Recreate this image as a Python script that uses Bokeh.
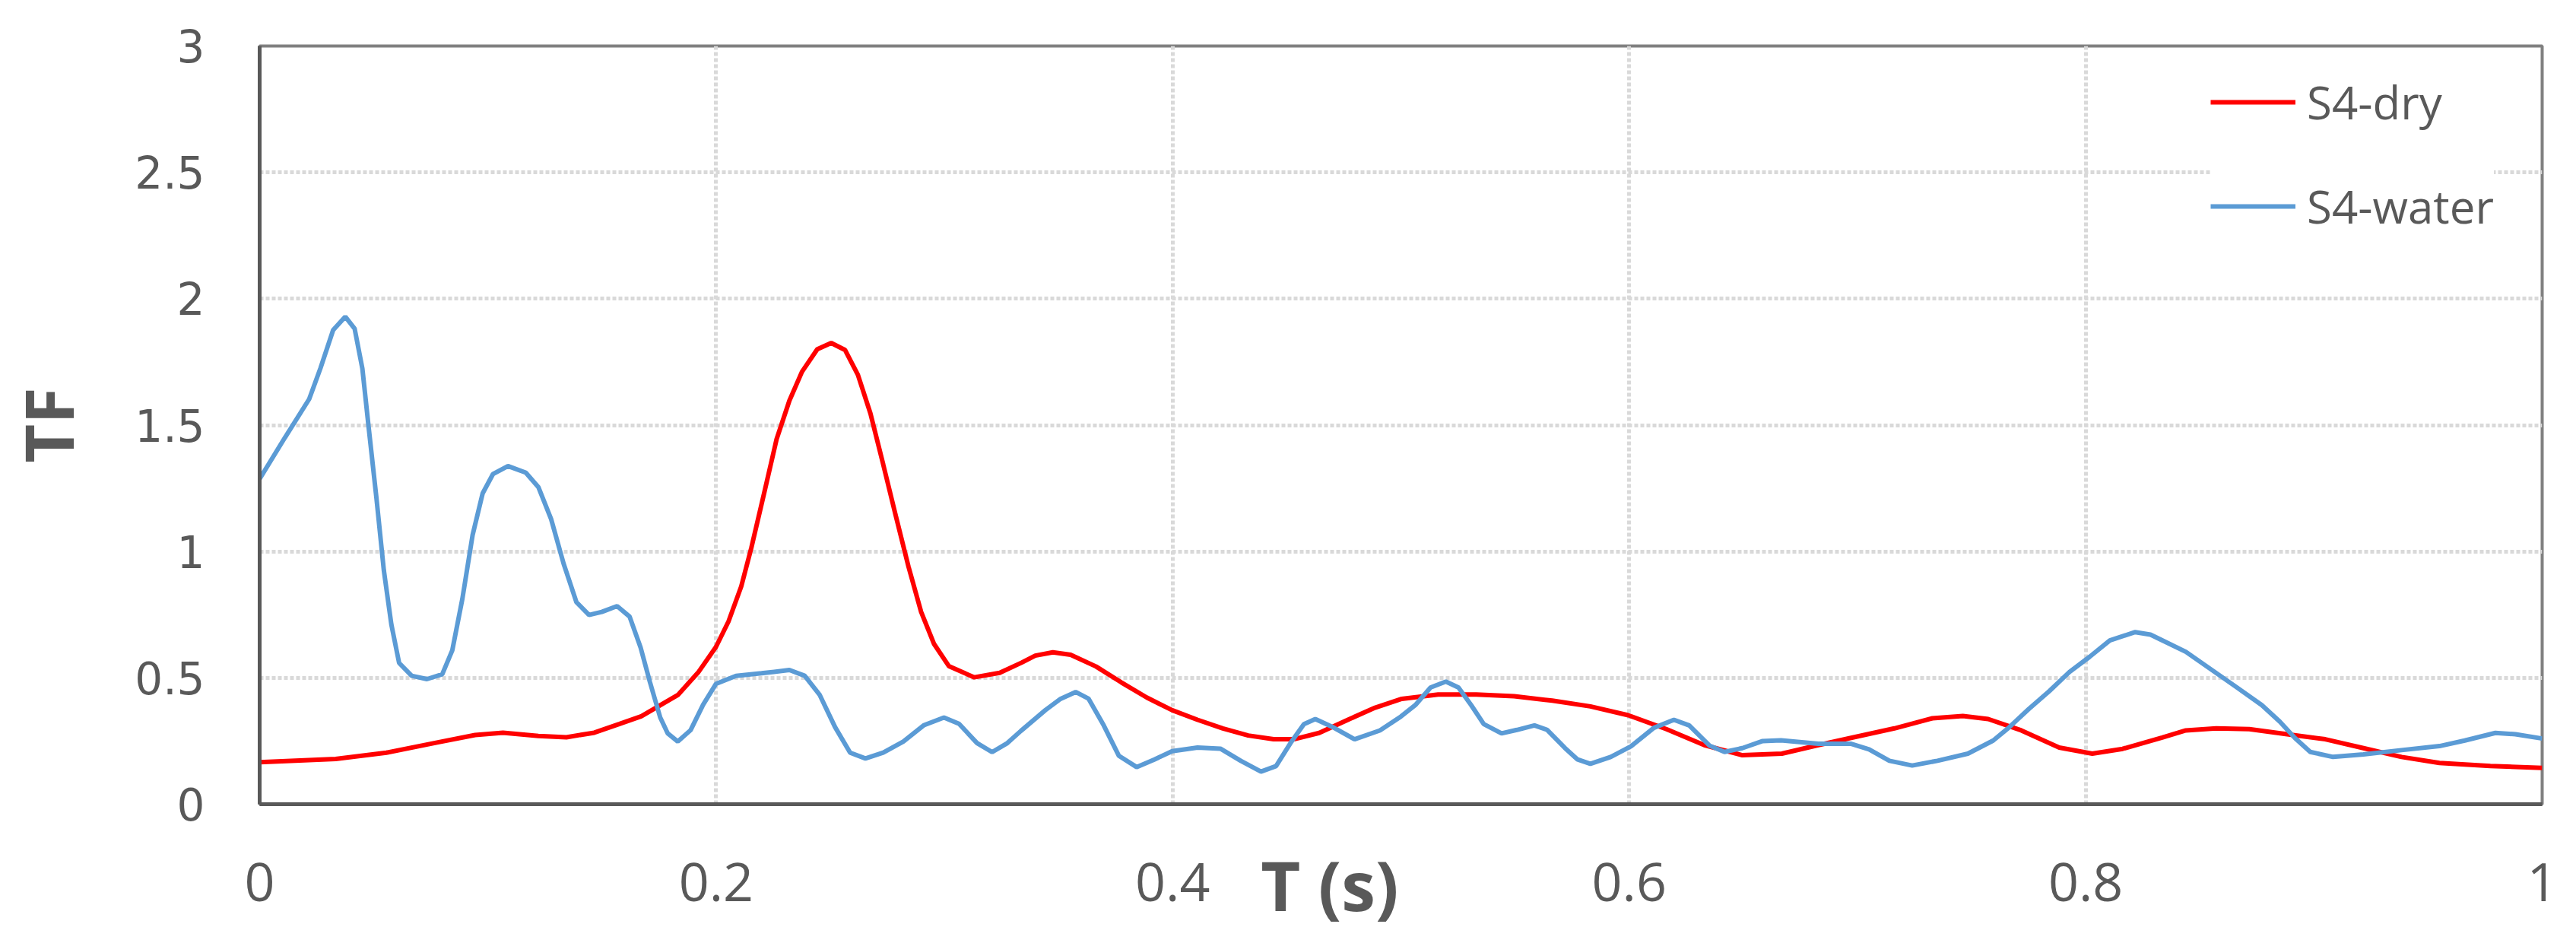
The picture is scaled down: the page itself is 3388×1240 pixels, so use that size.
from bokeh.plotting import figure
from bokeh.models import FixedTicker, NumeralTickFormatter, Legend, LegendItem, Range1d
from bokeh.embed import file_html
from bokeh.resources import INLINE

# ---- data: (T, TF) pairs ----
dry_points = [
    (0.0, 0.166), (0.0333, 0.179), (0.0555, 0.204), (0.0777, 0.244), (0.0944, 0.274),
    (0.1066, 0.283), (0.1221, 0.270), (0.1344, 0.265), (0.1466, 0.283), (0.1577, 0.318),
    (0.1672, 0.348), (0.1832, 0.432), (0.1921, 0.521), (0.1999, 0.622), (0.2054, 0.723),
    (0.2110, 0.862), (0.2154, 1.014), (0.2210, 1.230), (0.2265, 1.445), (0.2321, 1.597),
    (0.2376, 1.711), (0.2443, 1.800), (0.2504, 1.825), (0.2565, 1.797), (0.2621, 1.699),
    (0.2676, 1.546), (0.2732, 1.344), (0.2787, 1.141), (0.2843, 0.939), (0.2898, 0.761),
    (0.2954, 0.635), (0.3020, 0.546), (0.3131, 0.502), (0.3242, 0.520), (0.3338, 0.560),
    (0.3398, 0.588), (0.3475, 0.601), (0.3553, 0.591), (0.3664, 0.545), (0.3775, 0.482),
    (0.3887, 0.422), (0.3998, 0.372), (0.4109, 0.334), (0.4220, 0.300), (0.4331, 0.272),
    (0.4442, 0.257), (0.4531, 0.257), (0.4642, 0.282), (0.4775, 0.337), (0.4887, 0.382),
    (0.5004, 0.417), (0.5163, 0.434), (0.5330, 0.434), (0.5496, 0.427), (0.5663, 0.410),
    (0.5830, 0.387), (0.5996, 0.352), (0.6163, 0.297), (0.6329, 0.234), (0.6496, 0.194),
    (0.6669, 0.200), (0.6829, 0.234), (0.6995, 0.267), (0.7162, 0.300), (0.7329, 0.340),
    (0.7462, 0.349), (0.7573, 0.337), (0.7718, 0.292), (0.7884, 0.224), (0.8029, 0.200),
    (0.8162, 0.219), (0.8335, 0.264), (0.8439, 0.292), (0.8572, 0.300), (0.8717, 0.297),
    (0.8883, 0.277), (0.9050, 0.257), (0.9217, 0.222), (0.9384, 0.187), (0.9550, 0.163),
    (0.9773, 0.151), (1.0, 0.144),
]

water_points = [
    (0.0, 1.287), (0.0111, 1.451), (0.0217, 1.603), (0.0266, 1.724), (0.0322, 1.876),
    (0.0375, 1.929), (0.0416, 1.882), (0.0450, 1.724), (0.0477, 1.496), (0.0511, 1.217),
    (0.0544, 0.926), (0.0577, 0.711), (0.0611, 0.559), (0.0666, 0.508), (0.0733, 0.495),
    (0.0800, 0.514), (0.0844, 0.609), (0.0888, 0.812), (0.0933, 1.065), (0.0977, 1.230),
    (0.1022, 1.306), (0.1088, 1.338), (0.1166, 1.312), (0.1221, 1.255), (0.1277, 1.128),
    (0.1332, 0.951), (0.1388, 0.799), (0.1443, 0.749), (0.1499, 0.761), (0.1566, 0.784),
    (0.1621, 0.742), (0.1669, 0.620), (0.1710, 0.483), (0.1755, 0.343), (0.1788, 0.280),
    (0.1832, 0.248), (0.1888, 0.293), (0.1943, 0.394), (0.1999, 0.476), (0.2087, 0.508),
    (0.2199, 0.518), (0.2321, 0.531), (0.2388, 0.508), (0.2454, 0.432), (0.2521, 0.305),
    (0.2587, 0.204), (0.2654, 0.181), (0.2732, 0.204), (0.2820, 0.248), (0.2909, 0.312),
    (0.2998, 0.343), (0.3064, 0.318), (0.3143, 0.242), (0.3209, 0.206), (0.3276, 0.242),
    (0.3335, 0.290), (0.3442, 0.372), (0.3509, 0.417), (0.3575, 0.444), (0.3631, 0.418),
    (0.3698, 0.312), (0.3764, 0.192), (0.3842, 0.147), (0.3920, 0.177), (0.3998, 0.210),
    (0.4109, 0.224), (0.4209, 0.220), (0.4298, 0.172), (0.4387, 0.129), (0.4453, 0.151),
    (0.4520, 0.247), (0.4575, 0.317), (0.4625, 0.337), (0.4697, 0.307), (0.4797, 0.257),
    (0.4908, 0.292), (0.5000, 0.347), (0.5063, 0.392), (0.5130, 0.462), (0.5197, 0.485),
    (0.5252, 0.462), (0.5308, 0.392), (0.5363, 0.317), (0.5441, 0.280), (0.5508, 0.294),
    (0.5585, 0.312), (0.5641, 0.294), (0.5719, 0.222), (0.5774, 0.177), (0.5830, 0.160),
    (0.5919, 0.187), (0.6008, 0.229), (0.6108, 0.302), (0.6196, 0.334), (0.6263, 0.312),
    (0.6352, 0.232), (0.6418, 0.207), (0.6496, 0.222), (0.6585, 0.250), (0.6665, 0.253),
    (0.6829, 0.239), (0.6973, 0.239), (0.7051, 0.217), (0.7140, 0.172), (0.7240, 0.153),
    (0.7351, 0.172), (0.7484, 0.200), (0.7595, 0.252), (0.7662, 0.302), (0.7751, 0.377),
    (0.7840, 0.447), (0.7929, 0.523), (0.8017, 0.583), (0.8106, 0.648), (0.8217, 0.681),
    (0.8284, 0.671), (0.8332, 0.650), (0.8439, 0.603), (0.8550, 0.533), (0.8661, 0.463),
    (0.8772, 0.392), (0.8850, 0.327), (0.8917, 0.262), (0.8984, 0.207), (0.9084, 0.187),
    (0.9217, 0.197), (0.9384, 0.214), (0.9550, 0.230), (0.9661, 0.252), (0.9795, 0.282),
    (0.9883, 0.277), (1.0, 0.260),
]

series_names = ["S4-dry", "S4-water"]
x_ticks = [0, 0.2, 0.4, 0.6, 0.8, 1.0]
y_ticks = [0, 0.5, 1.0, 1.5, 2.0, 2.5, 3.0]
x_title = "T (s)"
y_title = "TF"

t_dry = [a for a, _ in dry_points]
v_dry = [b for _, b in dry_points]
t_water = [a for a, _ in water_points]
v_water = [b for _, b in water_points]

TXT = "#595959"

p = figure(width=3388, height=1240, output_backend="svg", toolbar_location=None,
           x_range=Range1d(0, 1), y_range=Range1d(0, 3),
           min_border_left=341, min_border_right=45, min_border_top=60, min_border_bottom=183)
p.background_fill_color = "white"
p.border_fill_color = "white"
p.outline_line_color = "#808080"
p.outline_line_width = 4

for ax in (p.xaxis[0], p.yaxis[0]):
    ax.axis_line_color = TXT
    ax.axis_line_width = 5
    ax.major_tick_line_color = None
    ax.minor_tick_line_color = None
    ax.major_label_text_color = TXT
    ax.axis_label_text_color = TXT
    ax.axis_label_text_font = "Open Sans"
    ax.axis_label_text_font_style = "bold"
    ax.formatter = NumeralTickFormatter(format="0.[0]")

p.xaxis.ticker = FixedTicker(ticks=x_ticks)
p.yaxis.ticker = FixedTicker(ticks=y_ticks)
p.xaxis.major_label_text_font = "Open Sans"
p.xaxis.major_label_text_font_size = "70px"
p.xaxis.major_label_standoff = 71
p.yaxis.major_label_text_font = "DejaVu Sans"
p.yaxis.major_label_text_font_size = "58px"
p.yaxis.major_label_standoff = 66

# axis titles (x title sits on the tick-label row, left of centre)
p.xaxis.axis_label = x_title + "\u00a0" * 8
p.xaxis.axis_label_text_font_size = "90px"
p.xaxis.axis_label_standoff = -86
p.yaxis.axis_label = y_title
p.yaxis.axis_label_text_font_size = "88px"
p.yaxis.axis_label_standoff = 51

# grid
for g in (p.xgrid, p.ygrid):
    g.grid_line_color = "#D9D9D9"
    g.grid_line_width = 5
    g.grid_line_dash = "5 3"

r_dry = p.line(t_dry, v_dry, line_color="#FF0000", line_width=6)
r_wat = p.line(t_water, v_water, line_color="#5B9BD5", line_width=6)

legend = Legend(items=[LegendItem(label=series_names[0], renderers=[r_dry]),
                       LegendItem(label=series_names[1], renderers=[r_wat])],
                location=(2566, 745))
legend.label_text_font = "Open Sans"
legend.label_text_font_size = "60px"
legend.label_text_color = TXT
legend.glyph_width = 112
legend.glyph_height = 82
legend.label_height = 82
legend.label_standoff = 15
legend.spacing = 55
legend.padding = 30
legend.margin = 0
legend.border_line_color = None
legend.background_fill_color = "white"
legend.background_fill_alpha = 1.0
p.add_layout(legend, "center")

open("out.html", "w").write(file_html(p, INLINE))
